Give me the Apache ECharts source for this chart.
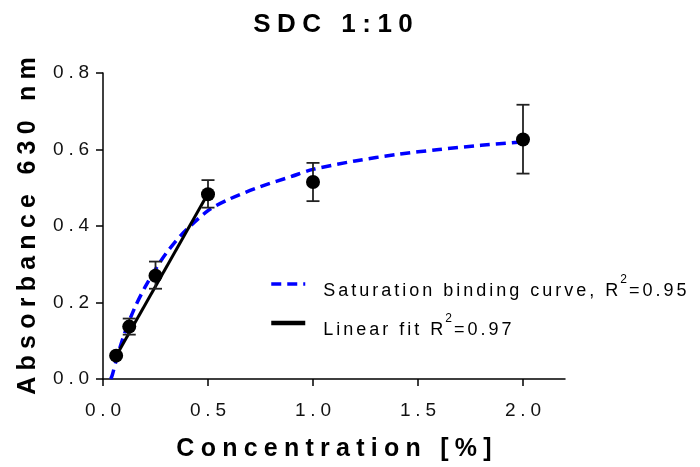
<!DOCTYPE html>
<html>
<head>
<meta charset="utf-8">
<title>SDC 1:10</title>
<script src="https://cdn.jsdelivr.net/npm/echarts@6.0.0/dist/echarts.min.js"></script>
<style>
  html, body { margin: 0; padding: 0; background: #fff; }
  #chart { width: 700px; height: 467px; }
</style>
</head>
<body>
<div id="chart"></div>
<script>
// measured points (mean and error bar ends)
const concX = [0.0625, 0.125, 0.25, 0.5, 1.0, 2.0];
const absY = [0.061, 0.137, 0.270, 0.483, 0.515, 0.626];
const errLow = [null, 0.116, 0.236, 0.448, 0.465, 0.537];
const errHigh = [null, 0.158, 0.307, 0.520, 0.565, 0.717];

// saturation binding curve
const satX = [0.037, 0.045, 0.0625, 0.1, 0.15, 0.2, 0.25, 0.3, 0.375, 0.5, 0.6, 0.75, 0.9, 1.0, 1.2, 1.4, 1.6, 1.8, 2.0];
const satY = [0.0, 0.012, 0.048, 0.115, 0.185, 0.24, 0.287, 0.328, 0.378, 0.44, 0.47, 0.503, 0.53, 0.548, 0.57, 0.587, 0.6, 0.611, 0.62];

// linear fit over the first four points
const fitX = [0.0625, 0.5];
const fitY = [0.06, 0.485];

const xTicks = [0, 0.5, 1.0, 1.5, 2.0];

const satName = 'Saturation binding curve, R²=0.95';
const fitName = 'Linear fit R²=0.97';

const FONT = "'Liberation Sans', Arial, sans-serif";
const G4 = '\u2005';
const G6 = '\u2006';

// wide letter spacing like the original plot
function spread(s, gap) {
  return s.split('').join(gap);
}

// R² with a raised 2
function legendLabel(name) {
  const parts = name.split('²');
  return '{f|' + spread(parts[0], G6) + '}{s|' + G6 + '2' + G6 + '}{t|' + spread(parts[1], G6) + '}';
}

const chart = echarts.init(document.getElementById('chart'));

const option = {
  animation: false,
  backgroundColor: '#fff',
  title: {
    text: spread('SDC 1:10', G4),
    left: 328,
    textAlign: 'center',
    top: 7,
    textStyle: { fontFamily: FONT, fontSize: 26, fontWeight: 'bold', color: '#000' }
  },
  legend: {
    orient: 'vertical',
    left: 269,
    top: 274,
    padding: 0,
    itemWidth: 34,
    itemHeight: 14,
    itemGap: 13,
    data: [
      { name: satName, lineStyle: { width: 3.5 } },
      { name: fitName, lineStyle: { width: 4.5 } }
    ],
    formatter: legendLabel,
    itemStyle: { opacity: 0 },
    textStyle: {
      fontFamily: FONT,
      color: '#000',
      rich: {
        f: { fontFamily: FONT, fontSize: 18, verticalAlign: 'bottom', padding: [14, 0, 0, 13], color: '#000' },
        t: { fontFamily: FONT, fontSize: 18, verticalAlign: 'bottom', padding: [14, 0, 0, 0], color: '#000' },
        s: { fontFamily: FONT, fontSize: 12, verticalAlign: 'top', padding: [6, 0, 0, 0], color: '#000' }
      }
    }
  },
  grid: {
    left: 103,
    right: 135,
    top: 73,
    bottom: 87
  },
  xAxis: {
    type: 'value',
    min: 0,
    max: 2.2,
    interval: 0.5,
    name: spread('Concentration [%]', G4),
    nameLocation: 'middle',
    nameGap: 58,
    nameTextStyle: { fontFamily: FONT, fontSize: 25, fontWeight: 'bold', color: '#000' },
    splitLine: { show: false },
    axisLine: { lineStyle: { color: '#000', width: 1.5 } },
    axisTick: { length: 7, customValues: xTicks, lineStyle: { color: '#000', width: 1.5 } },
    axisLabel: {
      customValues: xTicks,
      margin: 22,
      fontFamily: FONT,
      fontSize: 19,
      color: '#111',
      formatter: v => spread(v.toFixed(1), G4)
    }
  },
  yAxis: {
    type: 'value',
    min: 0,
    max: 0.8,
    interval: 0.2,
    name: spread('Absorbance 630 nm', G4),
    nameLocation: 'middle',
    nameGap: 62,
    nameTextStyle: { fontFamily: FONT, fontSize: 25, fontWeight: 'bold', color: '#000' },
    splitLine: { show: false },
    axisLine: { show: true, lineStyle: { color: '#000', width: 1.5 } },
    axisTick: { show: true, length: 7, lineStyle: { color: '#000', width: 1.5 } },
    axisLabel: {
      margin: 14,
      fontFamily: FONT,
      fontSize: 19,
      color: '#111',
      formatter: v => spread(v.toFixed(1), G4)
    }
  },
  series: [
    {
      name: satName,
      type: 'line',
      data: satX.map((x, i) => [x, satY[i]]),
      smooth: 0.3,
      symbol: 'none',
      lineStyle: { color: '#0000ff', width: 3.5, type: [10, 6] },
      itemStyle: { color: '#0000ff' },
      z: 2
    },
    {
      name: fitName,
      type: 'line',
      data: fitX.map((x, i) => [x, fitY[i]]),
      symbol: 'none',
      lineStyle: { color: '#000', width: 3 },
      itemStyle: { color: '#000' },
      z: 3
    },
    {
      name: 'error',
      type: 'custom',
      data: concX.map((x, i) => [x, errLow[i], errHigh[i]]).filter(d => d[1] !== null),
      renderItem: function (params, api) {
        const x = api.value(0);
        const top = api.coord([x, api.value(2)]);
        const bot = api.coord([x, api.value(1)]);
        const half = 6.5;
        const style = { stroke: '#222', lineWidth: 1.8 };
        return {
          type: 'group',
          children: [
            { type: 'line', shape: { x1: top[0], y1: top[1], x2: bot[0], y2: bot[1] }, style: style },
            { type: 'line', shape: { x1: top[0] - half, y1: top[1], x2: top[0] + half, y2: top[1] }, style: style },
            { type: 'line', shape: { x1: bot[0] - half, y1: bot[1], x2: bot[0] + half, y2: bot[1] }, style: style }
          ]
        };
      },
      z: 4
    },
    {
      name: 'data',
      type: 'scatter',
      data: concX.map((x, i) => [x, absY[i]]),
      symbol: 'circle',
      symbolSize: 14,
      itemStyle: { color: '#000', opacity: 1 },
      z: 5
    }
  ]
};

chart.setOption(option);

window.addEventListener('resize', () => {
  chart.resize();
});
</script>
</body>
</html>
